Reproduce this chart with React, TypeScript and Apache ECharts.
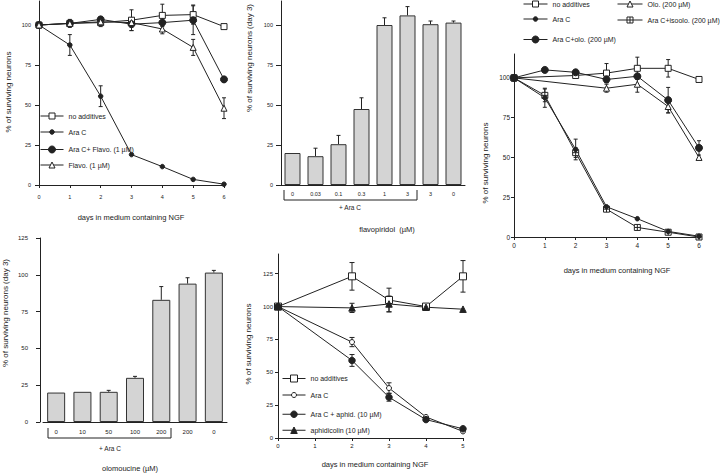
import React, { useEffect, useRef } from "react";
import * as echarts from "echarts";

// ---------- Panel A (flavopiridol time course) ----------
const daysA = [0, 1, 2, 3, 4, 5, 6];
const aNoAdd = [100, 101, 101.5, 103, 106, 106.5, 99];
const aNoAddErr = [0, 2.5, 2.5, 6.5, 7, 6, 0];
const aAraC = [100, 87.5, 55.5, 19, 11.5, 3.5, 0.5];
const aAraCErr = [0, 6.5, 6.5, 0, 0, 0, 0];
const aAraCFlavo = [100, 101, 103.5, 100.5, 101.5, 103, 66];
const aAraCFlavoErr = [0, 2, 1.5, 4, 1, 9, 0];
const aFlavo = [100, 101, 102, 101.5, 97.5, 86, 48];
const aFlavoErr = [0, 0, 0, 0, 3, 5, 6.5];

// ---------- Panel B (flavopiridol dose, day 3) ----------
const flavoDoses = ["0", "0.03", "0.1", "0.3", "1", "3", "3", "0"];
const flavoSurv = [20, 18, 25.5, 47.5, 100, 106, 100.5, 101.5];
const flavoErr = [0, 5, 5.5, 7, 4.5, 5.5, 2, 1];

// ---------- Panel C (olomoucine time course) ----------
const daysC = [0, 1, 2, 3, 4, 5, 6];
const cNoAdd = [100, null, 101.5, 103, 106, 106, 99];
const cNoAddErr = [0, 0, 0, 6, 7, 5.5, 0];
const cAraC = [100, 87.5, 55, 19, 11.5, 3.5, 0.5];
const cAraCErr = [0, 6, 6.5, 0, 0, 0, 0];
const cAraCOlo = [100, 105, 103.5, 99, 101, 86, 56];
const cAraCOloErr = [0, 0, 0, 2, 0, 8, 4.5];
const cOlo = [100, null, null, 93.5, 96, 82, 50];
const cOloErr = [0, 0, 0, 2.5, 5, 4, 0];
const cIsoolo = [100, 89, 53, 17.5, 6, 3, 0];
const cIsooloErr = [0, 4, 3, 0, 0, 0, 0];

// ---------- Panel D (olomoucine dose, day 3) ----------
const olomDoses = ["0", "10", "50", "100", "200", "200", "0"];
const olomSurv = [20, 20.5, 20.5, 30, 83, 94, 101.5];
const olomErr = [0, 0, 1, 1, 9, 4, 1.5];

// ---------- Panel E (aphidicolin time course) ----------
const daysE = [0, 2, 3, 4, 5];
const eNoAdd = [100, 123, 105, 100, 123];
const eNoAddErr = [0, 10.5, 9, 0, 12];
const eAraC = [100, 73, 38, 16, 5];
const eAraCErr = [0, 3.5, 4, 0, 0];
const eAraCAphid = [100, 59, 31, 14, 7];
const eAraCAphidErr = [0, 4.5, 3, 0, 0];
const eAphid = [100, 99, 102, 99.5, 98];
const eAphidErr = [0, 3.5, 6, 0, 0];

// tick values
const ticks100 = [0, 25, 50, 75, 100];
const ticks125 = [0, 25, 50, 75, 100, 125];

const INK = "#222";
const FONT = "'Liberation Sans', Arial, Helvetica, sans-serif";
const ISO = "path://M0,0H10V10H0Z M5,0V10 M0,5H10";

function pts(xs: number[], ys: (number | null)[]) {
  return xs.map((x, i) => [x, ys[i]]);
}
function errPts(xs: number[], ys: (number | null)[], es: number[]) {
  const out: number[][] = [];
  xs.forEach((x, i) => {
    const v = ys[i];
    if (es[i] > 0 && v != null) out.push([x, v - es[i], v + es[i]]);
  });
  return out;
}
function barErrPts(ys: number[], es: number[]) {
  const out: number[][] = [];
  ys.forEach((v, i) => {
    if (es[i] > 0) out.push([i, v, v + es[i]]);
  });
  return out;
}

function line(name: string, gi: number, data: any[], symbol: string, size: number, filled: boolean) {
  return {
    type: "line",
    name,
    xAxisIndex: gi,
    yAxisIndex: gi,
    data,
    symbol,
    symbolSize: size,
    showSymbol: true,
    connectNulls: true,
    silent: true,
    z: 3,
    lineStyle: { color: INK, width: 1 },
    itemStyle: { color: filled ? INK : "#fff", borderColor: INK, borderWidth: 1 },
    emphasis: { disabled: true },
  };
}

function errSeries(gi: number, data: number[][], cap: number, both: boolean) {
  return {
    type: "custom",
    xAxisIndex: gi,
    yAxisIndex: gi,
    silent: true,
    z: 2,
    data,
    encode: { x: 0, y: [1, 2] },
    renderItem: (_p: any, api: any) => {
      const x = api.value(0);
      const a = api.coord([x, api.value(1)]);
      const b = api.coord([x, api.value(2)]);
      const st = { stroke: INK, lineWidth: 1 };
      const ch: any[] = [
        { type: "line", shape: { x1: a[0], y1: a[1], x2: b[0], y2: b[1] }, style: st },
        { type: "line", shape: { x1: b[0] - cap, y1: b[1], x2: b[0] + cap, y2: b[1] }, style: st },
      ];
      if (both) ch.push({ type: "line", shape: { x1: a[0] - cap, y1: a[1], x2: a[0] + cap, y2: a[1] }, style: st });
      return { type: "group", children: ch };
    },
  };
}

function valX(gi: number, max: number, fs: number, margin: number) {
  return {
    type: "value",
    gridIndex: gi,
    min: 0,
    max,
    interval: 1,
    axisLine: { show: true, lineStyle: { color: INK, width: 1 } },
    axisTick: { show: true, length: 3, lineStyle: { color: INK, width: 1 } },
    axisLabel: { fontSize: fs, color: INK, fontFamily: FONT, margin },
    splitLine: { show: false },
  };
}
function catX(gi: number, labels: string[], fs: number, margin: number) {
  return {
    type: "category",
    gridIndex: gi,
    data: labels.map((_, i) => String(i)),
    axisLine: { show: true, lineStyle: { color: INK, width: 1 } },
    axisTick: { show: false },
    axisLabel: {
      fontSize: fs,
      color: INK,
      fontFamily: FONT,
      margin,
      interval: 0,
      formatter: (_v: string, i: number) => labels[i],
    },
    splitLine: { show: false },
  };
}
function valY(gi: number, max: number, tv: number[], fs: number, margin: number, tickLen: number, offset = 0) {
  return {
    type: "value",
    gridIndex: gi,
    min: 0,
    max,
    offset,
    axisLine: { show: true, lineStyle: { color: INK, width: 1 } },
    axisTick: { show: true, length: tickLen, customValues: tv, lineStyle: { color: INK, width: 1 } },
    axisLabel: { fontSize: fs, color: INK, fontFamily: FONT, margin, customValues: tv },
    splitLine: { show: false },
  };
}

function leg(name: string, left: number, cy: number, w: number, symSize: number) {
  return {
    data: [name],
    left,
    top: cy - 4.5,
    orient: "horizontal",
    itemWidth: w,
    itemHeight: symSize / 0.8,
    padding: 0,
    selectedMode: false,
    lineStyle: { width: 1, color: INK },
    itemStyle: { borderWidth: 1, borderColor: INK },
    textStyle: { fontSize: 7, color: INK, fontFamily: FONT },
    formatter: (n: string) => n.split("|")[1],
  };
}

function txt(t: string, x: number, y: number, fs: number, rot = 0) {
  return {
    type: "text",
    x,
    y,
    rotation: rot,
    silent: true,
    style: { text: t, fontSize: fs, fontFamily: FONT, fill: INK, align: "center", verticalAlign: "middle" },
  };
}
function bracket(x1: number, x2: number, yTop: number, yBot: number) {
  return {
    type: "polyline",
    silent: true,
    shape: { points: [[x1, yTop], [x1, yBot], [x2, yBot], [x2, yTop]] },
    style: { stroke: INK, lineWidth: 1, fill: "none" },
  };
}

export default function App() {
  const ref = useRef<HTMLDivElement>(null);
  useEffect(() => {
    document.body.style.margin = "0";
    if (!ref.current) return;
    const chart = echarts.init(ref.current, undefined, { renderer: "svg" });
    const R = Math.PI / 2;
    const option: any = {
      animation: false,
      backgroundColor: "#fff",
      textStyle: { fontFamily: FONT },
      grid: [
        { left: 39, top: 1, width: 185, height: 184, outerBoundsMode: "none" },
        { left: 281, top: 1, width: 184, height: 184, outerBoundsMode: "none" },
        { left: 514, top: 54, width: 185, height: 183, outerBoundsMode: "none" },
        { left: 43, top: 238, width: 184, height: 184, outerBoundsMode: "none" },
        { left: 278, top: 254, width: 185, height: 184, outerBoundsMode: "none" },
      ],
      xAxis: [
        valX(0, 6, 5.5, 9),
        catX(1, flavoDoses, 5.5, 6),
        valX(2, 6, 6.5, 5),
        catX(3, olomDoses, 6, 7),
        valX(4, 5, 6, 5),
      ],
      yAxis: [
        valY(0, 115, ticks100, 5.5, 8, 4),
        valY(1, 115, ticks100, 5.5, 8, 5),
        valY(2, 115, ticks100, 6.5, 4, 3),
        valY(3, 125, ticks125, 6, 12, 4, 3),
        valY(4, 140, ticks125, 6, 5, 3),
      ],
      legend: [
        leg("A|no additives", 40, 117, 23, 6),
        leg("A|Ara C", 40, 133, 23, 4.5),
        leg("A|Ara C+ Flavo. (1 µM)", 40, 150, 23, 7),
        leg("A|Flavo. (1 µM)", 40, 166, 23, 6),
        leg("C|no additives", 523, 5, 24, 6),
        leg("C|Ara C", 523, 20, 24, 4.5),
        leg("C|Ara C+olo. (200 µM)", 523, 40, 24, 7),
        leg("C|Olo. (200 µM)", 617, 5, 25, 6),
        leg("C|Ara C+isoolo. (200 µM)", 617, 21, 25, 6),
        leg("E|no additives", 282, 379, 23, 7),
        leg("E|Ara C", 282, 396, 23, 5),
        leg("E|Ara C + aphid. (10 µM)", 282, 415, 23, 6.5),
        leg("E|aphidicolin (10 µM)", 282, 431, 23, 6.5),
      ],
      series: [
        // Panel A
        errSeries(0, errPts(daysA, aNoAdd, aNoAddErr), 2, true),
        errSeries(0, errPts(daysA, aAraC, aAraCErr), 2, true),
        errSeries(0, errPts(daysA, aAraCFlavo, aAraCFlavoErr), 2, true),
        errSeries(0, errPts(daysA, aFlavo, aFlavoErr), 2, true),
        line("A|no additives", 0, pts(daysA, aNoAdd), "rect", 6, false),
        line("A|Ara C", 0, pts(daysA, aAraC), "circle", 4.5, true),
        line("A|Ara C+ Flavo. (1 µM)", 0, pts(daysA, aAraCFlavo), "circle", 7, true),
        line("A|Flavo. (1 µM)", 0, pts(daysA, aFlavo), "triangle", 6, false),
        // Panel B
        {
          type: "bar",
          xAxisIndex: 1,
          yAxisIndex: 1,
          data: flavoSurv,
          barWidth: 16,
          silent: true,
          itemStyle: { color: "#d4d4d4", borderColor: "#333", borderWidth: 1 },
        },
        errSeries(1, barErrPts(flavoSurv, flavoErr), 2, false),
        // Panel C
        errSeries(2, errPts(daysC, cNoAdd, cNoAddErr), 2, true),
        errSeries(2, errPts(daysC, cAraC, cAraCErr), 2, true),
        errSeries(2, errPts(daysC, cAraCOlo, cAraCOloErr), 2, true),
        errSeries(2, errPts(daysC, cOlo, cOloErr), 2, true),
        errSeries(2, errPts(daysC, cIsoolo, cIsooloErr), 2, true),
        line("C|no additives", 2, pts(daysC, cNoAdd), "rect", 6, false),
        line("C|Olo. (200 µM)", 2, pts(daysC, cOlo), "triangle", 6, false),
        line("C|Ara C+isoolo. (200 µM)", 2, pts(daysC, cIsoolo), ISO, 6, false),
        line("C|Ara C", 2, pts(daysC, cAraC), "circle", 4.5, true),
        line("C|Ara C+olo. (200 µM)", 2, pts(daysC, cAraCOlo), "circle", 7, true),
        // Panel D
        {
          type: "bar",
          xAxisIndex: 3,
          yAxisIndex: 3,
          data: olomSurv,
          barWidth: 18,
          silent: true,
          itemStyle: { color: "#d4d4d4", borderColor: "#333", borderWidth: 1 },
        },
        errSeries(3, barErrPts(olomSurv, olomErr), 2, false),
        // Panel E
        errSeries(4, errPts(daysE, eNoAdd, eNoAddErr), 2.5, true),
        errSeries(4, errPts(daysE, eAraC, eAraCErr), 2.5, true),
        errSeries(4, errPts(daysE, eAraCAphid, eAraCAphidErr), 2.5, true),
        errSeries(4, errPts(daysE, eAphid, eAphidErr), 2.5, true),
        line("E|no additives", 4, pts(daysE, eNoAdd), "rect", 7, false),
        line("E|Ara C", 4, pts(daysE, eAraC), "circle", 5, false),
        line("E|Ara C + aphid. (10 µM)", 4, pts(daysE, eAraCAphid), "circle", 6.5, true),
        line("E|aphidicolin (10 µM)", 4, pts(daysE, eAphid), "triangle", 6.5, true),
      ],
      graphic: [
        txt("% of surviving neurons", 8, 92, 8, R),
        txt("days in medium containing NGF", 131, 217, 7.5),
        txt("% of surviving neurons (day 3)", 249, 58, 8, R),
        txt("+ Ara C", 350, 207, 6.5),
        txt("flavopiridol  (µM)", 387, 229, 7.5),
        bracket(284, 417, 190, 200),
        txt("% of surviving neurons", 485, 163, 8, R),
        txt("days in medium containing NGF", 617, 270, 7.5),
        txt("% of surviving neurons (day 3)", 5, 313, 8, R),
        txt("+ Ara C", 110, 448, 6.5),
        txt("olomoucine (µM)", 130, 468, 7.5),
        bracket(48, 171, 428, 438),
        txt("% of surviving neurons", 248, 344, 8, R),
        txt("days in medium containing NGF", 375, 464, 7.5),
      ],
    };
    chart.setOption(option);
    return () => chart.dispose();
  }, []);
  return <div ref={ref} style={{ width: 720, height: 474 }} />;
}
